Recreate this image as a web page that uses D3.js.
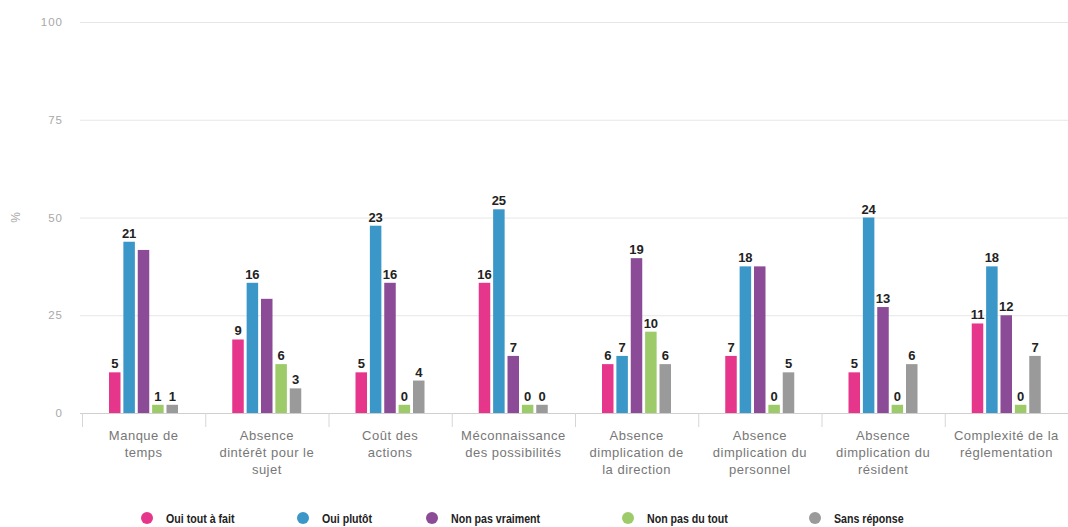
<!DOCTYPE html>
<html>
<head>
<meta charset="utf-8">
<script src="https://cdn.jsdelivr.net/npm/d3@7"></script>
<style>
body { margin: 0; background: #fff; }
svg { font-family: "Liberation Sans", Arial, sans-serif; }
</style>
</head>
<body>
<div id="chart"></div>
<script>
const categories = [
	['Manque de', 'temps'],
	['Absence', 'dintérêt pour le', 'sujet'],
	['Coût des', 'actions'],
	['Méconnaissance', 'des possibilités'],
	['Absence', 'dimplication de', 'la direction'],
	['Absence', 'dimplication du', 'personnel'],
	['Absence', 'dimplication du', 'résident'],
	['Complexité de la', 'réglementation']
]

const seriesNames = ['Oui tout à fait', 'Oui plutôt', 'Non pas vraiment', 'Non pas du tout', 'Sans réponse']
const colors = ['#e6368b', '#3b97c8', '#8b4b96', '#9dcb6a', '#9a9a9a']

// bar heights in %
const ouiToutAFait   = [10.4, 18.8, 10.4, 33.3, 12.5, 14.6, 10.4, 22.9]
const ouiPlutot      = [43.8, 33.3, 47.9, 52.1, 14.6, 37.5, 50.0, 37.5]
const nonPasVraiment = [41.7, 29.2, 33.3, 14.6, 39.6, 37.5, 27.1, 25.0]
const nonPasDuTout   = [2.1, 12.5, 2.1, 2.1, 20.8, 2.1, 2.1, 2.1]
const sansReponse    = [2.1, 6.3, 8.3, 2.1, 12.5, 10.4, 12.5, 14.6]

// counts printed above bars (null = no label shown)
const lblOuiToutAFait   = [5, 9, 5, 16, 6, 7, 5, 11]
const lblOuiPlutot      = [21, 16, 23, 25, 7, 18, 24, 18]
const lblNonPasVraiment = [null, null, 16, 7, 19, null, 13, 12]
const lblNonPasDuTout   = [1, 6, 0, 0, 10, 0, 0, 0]
const lblSansReponse    = [1, 3, 4, 0, 6, 5, 6, 7]

const yTicks = [0, 25, 50, 75, 100]

const series = [ouiToutAFait, ouiPlutot, nonPasVraiment, nonPasDuTout, sansReponse]
const labels = [lblOuiToutAFait, lblOuiPlutot, lblNonPasVraiment, lblNonPasDuTout, lblSansReponse]

const width = 1068, height = 527
const margin = { top: 22, right: 0, bottom: 114, left: 82 }

let svg = d3.select('#chart')
.append('svg')
.attr('width', width)
.attr('height', height)

let x0 = d3.scaleBand()
.domain(d3.range(categories.length))
.range([margin.left, width - margin.right])

let x1 = d3.scaleBand()
.domain(d3.range(series.length))
.range([27, 96])
.paddingInner(0.2)

let y = d3.scaleLinear()
.domain([0, 100])
.range([height - margin.bottom, margin.top])

// grid
svg.append('g')
.selectAll('line')
.data(yTicks)
.join('line')
.attr('x1', margin.left - 2)
.attr('x2', width)
.attr('y1', d => y(d) + 0.5)
.attr('y2', d => y(d) + 0.5)
.attr('stroke', d => d == 0 ? '#cfcfcf' : '#e6e6e6')
.attr('stroke-width', 1)

svg.append('g')
.selectAll('text')
.data(yTicks)
.join('text')
.attr('x', 63)
.attr('y', d => y(d) + 4)
.attr('text-anchor', 'end')
.attr('font-size', 11.5)
.attr('letter-spacing', 1)
.attr('fill', '#a8a8a8')
.text(d => d)

svg.append('text')
.attr('transform', `translate(20, ${y(50)}) rotate(-90)`)
.attr('text-anchor', 'middle')
.attr('font-size', 12)
.attr('fill', '#a8a8a8')
.text('%')

// category separators
svg.append('g')
.selectAll('line')
.data(d3.range(categories.length))
.join('line')
.attr('x1', d => x0(d) + 0.5)
.attr('x2', d => x0(d) + 0.5)
.attr('y1', y(0))
.attr('y2', y(0) + 14)
.attr('stroke', '#d6d6d6')

// bars
let groups = svg.append('g')
.selectAll('g')
.data(categories.map((c, i) => i))
.join('g')
.attr('transform', i => `translate(${x0(i)},0)`)

groups.selectAll('rect')
.data(i => series.map((s, k) => ({ k, v: s[i], l: labels[k][i] })))
.join('rect')
.attr('x', d => x1(d.k))
.attr('width', x1.bandwidth())
.attr('y', d => y(d.v))
.attr('height', d => y(0) - y(d.v))
.attr('fill', d => colors[d.k])

groups.selectAll('text')
.data(i => series.map((s, k) => ({ k, v: s[i], l: labels[k][i] })).filter(d => d.l !== null))
.join('text')
.attr('x', d => x1(d.k) + x1.bandwidth() / 2)
.attr('y', d => y(d.v) - 4)
.attr('text-anchor', 'middle')
.attr('font-size', 13)
.attr('font-weight', 'bold')
.attr('fill', '#222')
.text(d => d.l)

// category labels
svg.append('g')
.selectAll('text')
.data(categories)
.join('text')
.attr('x', (d, i) => x0(i) + x0.bandwidth() / 2)
.attr('y', 440)
.attr('text-anchor', 'middle')
.attr('font-size', 13)
.attr('letter-spacing', 0.5)
.attr('fill', '#777')
.selectAll('tspan')
.data(d => d)
.join('tspan')
.attr('x', function() { return this.parentNode.getAttribute('x') })
.attr('dy', (d, i) => i == 0 ? 0 : 17)
.text(d => d)

// legend
const legendX = [147, 303, 432, 628, 815]
let legend = svg.append('g')
.selectAll('g')
.data(seriesNames)
.join('g')
.attr('transform', (d, i) => `translate(${legendX[i]}, 518)`)

legend.append('circle')
.attr('r', 6)
.attr('fill', (d, i) => colors[i])

// condensed bold text
legend.append('text')
.attr('transform', 'translate(19, 4.5) scale(0.85, 1)')
.attr('font-size', 12.5)
.attr('font-weight', 'bold')
.attr('fill', '#222')
.text(d => d)
</script>
</body>
</html>
